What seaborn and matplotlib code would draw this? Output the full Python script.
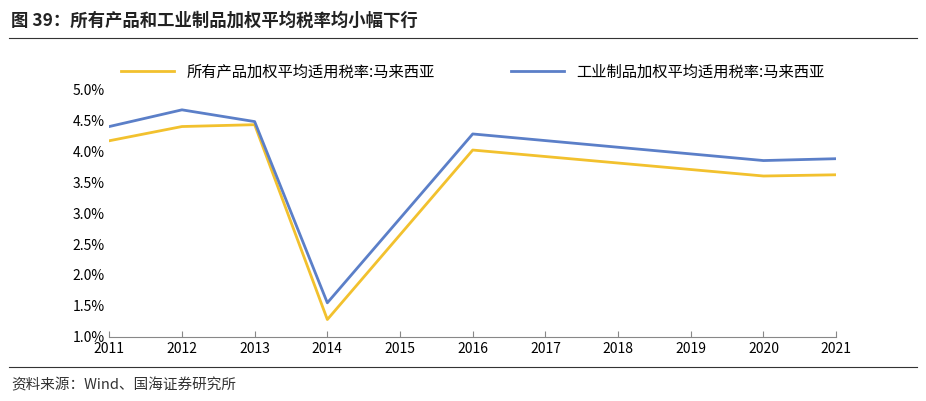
import matplotlib
matplotlib.use("Agg")
import matplotlib.pyplot as plt
import seaborn as sns
import pandas as pd
from matplotlib.ticker import FuncFormatter

plt.rcParams["font.family"] = ["Noto Sans CJK SC", "DejaVu Sans"]

years = [2011, 2012, 2013, 2014, 2016, 2020, 2021]
all_products = [4.17, 4.40, 4.43, 1.28, 4.02, 3.60, 3.62]
industrial = [4.40, 4.67, 4.48, 1.55, 4.28, 3.85, 3.88]
name_all = "所有产品加权平均适用税率:马来西亚"
name_ind = "工业制品加权平均适用税率:马来西亚"

df = pd.DataFrame({"year": years * 2,
                   "rate": all_products + industrial,
                   "series": [name_all] * len(years) + [name_ind] * len(years)})

fig = plt.figure(figsize=(9.26, 4.01), dpi=100)
ax = fig.add_axes([0.118, 0.16, 0.785, 0.617])
sns.lineplot(data=df, x="year", y="rate", hue="series", ax=ax,
             palette={name_all: "#F2C12E", name_ind: "#5B7FC8"}, linewidth=2)

ax.set_xlim(2011, 2021)
ax.set_ylim(1.0, 5.0)
ax.set_xticks(range(2011, 2022))
ax.set_yticks([1.0 + 0.5 * i for i in range(9)])
ax.yaxis.set_major_formatter(FuncFormatter(lambda v, p: f"{v:.1f}%"))
ax.tick_params(labelsize=10, length=0)
ax.tick_params(axis="x", length=4, direction="in", color="#888888")
ax.set_xlabel("")
ax.set_ylabel("")
for s in ["top", "right", "left"]:
    ax.spines[s].set_visible(False)
ax.spines["bottom"].set_color("#888888")

ax.legend(loc="upper center", bbox_to_anchor=(0.5, 1.16), ncol=2, frameon=False,
          fontsize=11, handlelength=3.5, columnspacing=5)

fig.text(0.012, 0.935, "图 39：所有产品和工业制品加权平均税率均小幅下行",
         fontsize=12.5, fontweight="bold", color="#222222")
fig.add_artist(plt.Line2D([0.01, 0.99], [0.905, 0.905], color="#333333", lw=0.8))
fig.add_artist(plt.Line2D([0.01, 0.99], [0.085, 0.085], color="#333333", lw=0.8))
fig.text(0.012, 0.03, "资料来源：Wind、国海证券研究所", fontsize=10.5, color="#333333")

fig.savefig("out.png", dpi=100)
